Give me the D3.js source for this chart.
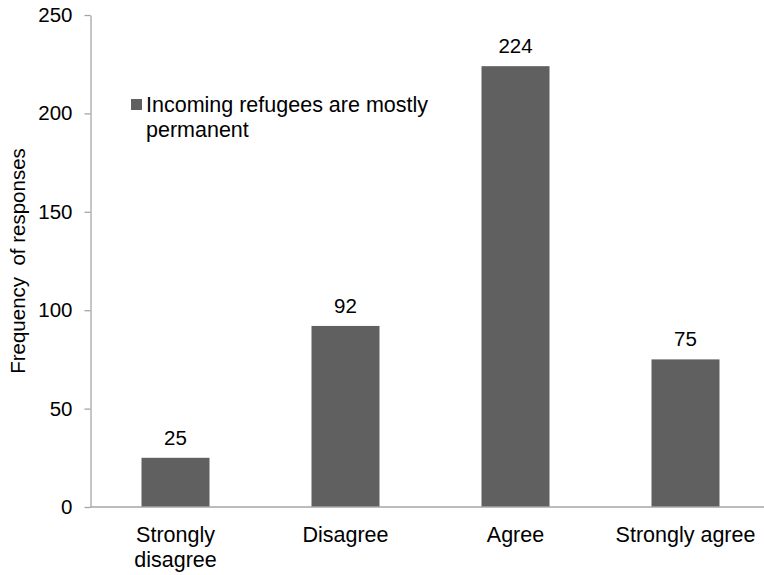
<!DOCTYPE html>
<html>
<head>
<meta charset="utf-8">
<script src="https://cdn.jsdelivr.net/npm/d3@7"></script>
<style>
  body { margin: 0; background: #fff; }
  svg text { font-family: "Liberation Sans", Arial, sans-serif; fill: #000; }
</style>
</head>
<body>
<div id="chart"></div>
<script>
// data
var categories = ['Strongly disagree', 'Disagree', 'Agree', 'Strongly agree'];
var catLines = [['Strongly', 'disagree'], ['Disagree'], ['Agree'], ['Strongly agree']];
var values = [25, 92, 224, 75];
var yTicks = [0, 50, 100, 150, 200, 250];
var seriesName = ['Incoming refugees are mostly', 'permanent'];
var yTitle = 'Frequency  of responses';

var width = 764, height = 575;
var plotLeft = 90.5, plotTop = 15, plotBottom = 507;
var barColor = '#606060';
var axisColor = '#a6a6a6';

var svg = d3.select('#chart').append('svg')
    .attr('width', width)
    .attr('height', height);

var x = d3.scaleBand()
    .domain(categories)
    .range([plotLeft, plotLeft + 680])
    .paddingInner(0.6)
    .paddingOuter(0.3);

var y = d3.scaleLinear()
    .domain([0, 250])
    .range([plotBottom, plotTop]);

// y axis
var yAxis = svg.append('g')
    .attr('transform', 'translate(' + plotLeft + ',0)')
    .call(d3.axisLeft(y).tickValues(yTicks).tickSize(6).tickSizeOuter(0).tickPadding(12));
yAxis.select('.domain').attr('stroke', axisColor).attr('stroke-width', 1.3);
yAxis.selectAll('.tick line').attr('stroke', axisColor).attr('stroke-width', 1.3);
yAxis.selectAll('.tick text')
    .style('font-size', '20.5px')
    .attr('fill', '#000');

// bars
svg.selectAll('rect.bar')
    .data(values)
    .enter()
    .append('rect')
    .attr('class', 'bar')
    .attr('x', function (d, i) { return x(categories[i]); })
    .attr('y', function (d) { return y(d); })
    .attr('width', x.bandwidth())
    .attr('height', function (d) { return y(0) - y(d); })
    .attr('fill', barColor);

// x axis line
svg.append('line')
    .attr('x1', plotLeft)
    .attr('x2', width + 10)
    .attr('y1', y(0))
    .attr('y2', y(0))
    .attr('stroke', axisColor)
    .attr('stroke-width', 1.3);

// data labels
svg.selectAll('text.val')
    .data(values)
    .enter()
    .append('text')
    .attr('class', 'val')
    .attr('x', function (d, i) { return x(categories[i]) + x.bandwidth() / 2; })
    .attr('y', function (d) { return y(d) - 13; })
    .attr('text-anchor', 'middle')
    .style('font-size', '20.5px')
    .text(function (d) { return d; });

// category labels
catLines.forEach(function (lines, i) {
    var t = svg.append('text')
        .attr('text-anchor', 'middle')
        .style('font-size', '21.5px');
    lines.forEach(function (s, j) {
        t.append('tspan')
            .attr('x', x(categories[i]) + x.bandwidth() / 2)
            .attr('y', 542 + j * 24.5)
            .text(s);
    });
});

// y title
svg.append('text')
    .attr('transform', 'translate(25,' + ((plotTop + plotBottom) / 2) + ') rotate(-90)')
    .attr('text-anchor', 'middle')
    .style('font-size', '20.5px')
    .style('white-space', 'pre')
    .text(yTitle);

// legend
svg.append('rect')
    .attr('x', 131)
    .attr('y', 99)
    .attr('width', 11)
    .attr('height', 11)
    .attr('fill', barColor);
var leg = svg.append('text').style('font-size', '21.5px');
seriesName.forEach(function (s, j) {
    leg.append('tspan')
        .attr('x', 146)
        .attr('y', 112 + j * 24.5)
        .text(s);
});
</script>
</body>
</html>
